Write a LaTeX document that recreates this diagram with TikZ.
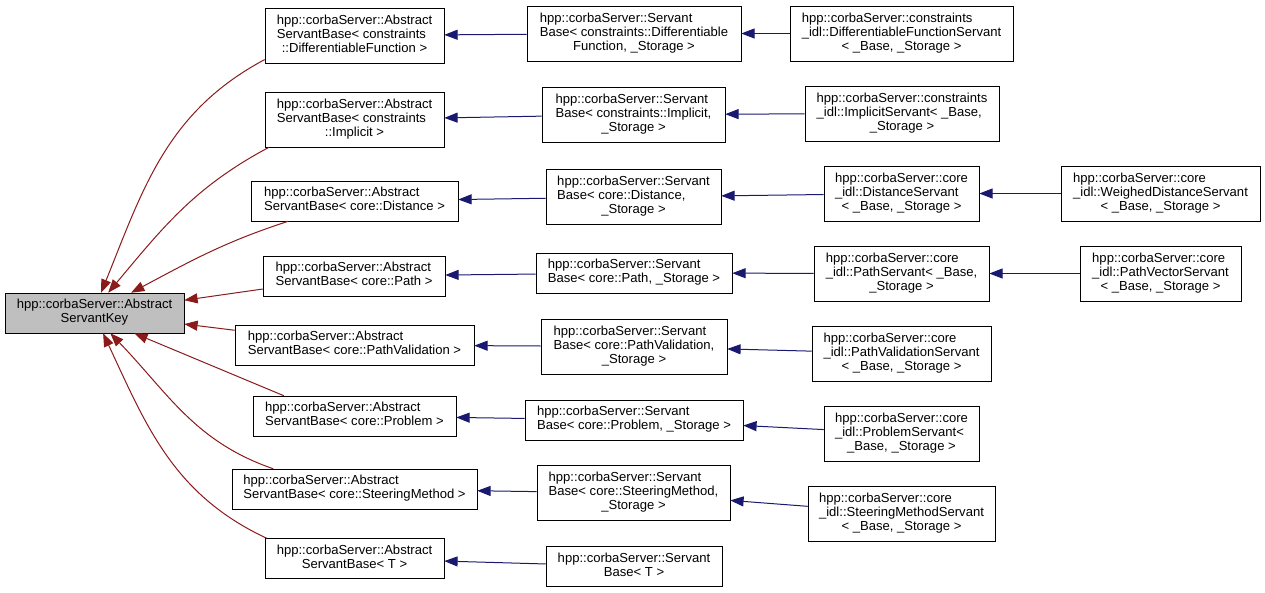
\documentclass[tikz,border=0pt]{standalone}
\usepackage{fontspec}
\setmainfont{Liberation Sans}
\usetikzlibrary{arrows.meta}
\definecolor{firebrick}{HTML}{8B1A1A}
\definecolor{midnight}{HTML}{191970}
\definecolor{grey75}{HTML}{BFBFBF}
% doxygen label: left aligned lines, last line centred
\newcommand{\cls}[2]{\begin{tabular}{@{}l@{}}#1\\\multicolumn{1}{@{}c@{}}{#2}\end{tabular}}

\begin{document}
\begin{tikzpicture}[x=0.75pt,y=0.75pt,
  box/.style 2 args={draw,rectangle,inner sep=0pt,minimum width=#1*0.75pt,minimum height=#2*0.75pt,font=\fontsize{9.8}{10.5}\selectfont},
  redarr/.style={draw=firebrick,line width=0.75pt,-{Triangle[length=10pt,width=7.5pt]}},
  bluearr/.style={draw=midnight,line width=0.75pt,-{Triangle[length=10pt,width=7.5pt]}}]
\useasboundingbox (0,0) rectangle (1265,-593);

\node[box={179}{40},fill=grey75] (root) at (94.5,-313) {\cls{hpp::corbaServer::Abstract}{ServantKey}};

\node[box={179}{55}] (a1) at (354.5,-35.5) {\cls{hpp::corbaServer::Abstract\\ServantBase< constraints}{::DifferentiableFunction >}};
\node[box={179}{55}] (a2) at (354.5,-119.5) {\cls{hpp::corbaServer::Abstract\\ServantBase< constraints}{::Implicit >}};
\node[box={207}{40}] (a3) at (354.5,-201) {\cls{hpp::corbaServer::Abstract}{ServantBase< core::Distance >}};
\node[box={182}{40}] (a4) at (354,-276) {\cls{hpp::corbaServer::Abstract}{ServantBase< core::Path >}};
\node[box={239}{40}] (a5) at (354.5,-345) {\cls{hpp::corbaServer::Abstract}{ServantBase< core::PathValidation >}};
\node[box={203}{40}] (a6) at (354.5,-416) {\cls{hpp::corbaServer::Abstract}{ServantBase< core::Problem >}};
\node[box={245}{40}] (a7) at (354.5,-489) {\cls{hpp::corbaServer::Abstract}{ServantBase< core::SteeringMethod >}};
\node[box={179}{40}] (a8) at (354.5,-558.5) {\cls{hpp::corbaServer::Abstract}{ServantBase< T >}};

\node[box={214}{55}] (s1) at (634,-33.5) {\cls{hpp::corbaServer::Servant\\Base< constraints::Differentiable}{Function, \_Storage >}};
\node[box={183}{55}] (s2) at (633.5,-114.5) {\cls{hpp::corbaServer::Servant\\Base< constraints::Implicit,}{\_Storage >}};
\node[box={175}{55}] (s3) at (633.5,-197) {\cls{hpp::corbaServer::Servant\\Base< core::Distance,}{\_Storage >}};
\node[box={196}{40}] (s4) at (634,-273) {\cls{hpp::corbaServer::Servant}{Base< core::Path, \_Storage >}};
\node[box={186}{55}] (s5) at (634,-346.5) {\cls{hpp::corbaServer::Servant\\Base< core::PathValidation,}{\_Storage >}};
\node[box={218}{40}] (s6) at (634,-420) {\cls{hpp::corbaServer::Servant}{Base< core::Problem, \_Storage >}};
\node[box={193}{55}] (s7) at (633.5,-493) {\cls{hpp::corbaServer::Servant\\Base< core::SteeringMethod,}{\_Storage >}};
\node[box={176}{40}] (s8) at (634,-566.5) {\cls{hpp::corbaServer::Servant}{Base< T >}};

\node[box={223}{55}] (d1) at (901.5,-33.5) {\cls{hpp::corbaServer::constraints\\\_idl::DifferentiableFunctionServant}{< \_Base, \_Storage >}};
\node[box={194}{55}] (d2) at (902,-113.5) {\cls{hpp::corbaServer::constraints\\\_idl::ImplicitServant< \_Base,}{\_Storage >}};
\node[box={155}{55}] (d3) at (901.5,-193.5) {\cls{hpp::corbaServer::core\\\_idl::DistanceServant}{< \_Base, \_Storage >}};
\node[box={175}{55}] (d4) at (901.5,-273.5) {\cls{hpp::corbaServer::core\\\_idl::PathServant< \_Base,}{\_Storage >}};
\node[box={179}{55}] (d5) at (901.5,-353.5) {\cls{hpp::corbaServer::core\\\_idl::PathValidationServant}{< \_Base, \_Storage >}};
\node[box={155}{55}] (d6) at (901.5,-433.5) {\cls{hpp::corbaServer::core\\\_idl::ProblemServant<}{\_Base, \_Storage >}};
\node[box={187}{55}] (d7) at (901.5,-513.5) {\cls{hpp::corbaServer::core\\\_idl::SteeringMethodServant}{< \_Base, \_Storage >}};

\node[box={199}{55}] (w1) at (1160.5,-193.5) {\cls{hpp::corbaServer::core\\\_idl::WeighedDistanceServant}{< \_Base, \_Storage >}};
\node[box={161}{55}] (w2) at (1160.5,-273.5) {\cls{hpp::corbaServer::core\\\_idl::PathVectorServant}{< \_Base, \_Storage >}};

% inheritance of the abstract key
\path (a1.195) edge[redarr,out=208,in=68] (root.72);
\path (a2.198) edge[redarr,out=208,in=50] (root.56);
\path (a3.197) edge[redarr,out=198,in=28] (root.29);
\path (a4) edge[redarr] (root);
\path (a5) edge[redarr] (root);
\path (a6.164) edge[redarr] (root.333);
\path (a7.166) edge[redarr,out=161,in=314] (root.308);
\path (a8.167) edge[redarr,out=155,in=295] (root.293);

\path (s1) edge[bluearr] (a1);
\path (s2) edge[bluearr] (a2);
\path (s3) edge[bluearr] (a3);
\path (s4) edge[bluearr] (a4);
\path (s5) edge[bluearr] (a5);
\path (s6) edge[bluearr] (a6);
\path (s7) edge[bluearr] (a7);
\path (s8) edge[bluearr] (a8);

\path (d1) edge[bluearr] (s1);
\path (d2) edge[bluearr] (s2);
\path (d3) edge[bluearr] (s3);
\path (d4) edge[bluearr] (s4);
\path (d5) edge[bluearr] (s5);
\path (d6) edge[bluearr] (s6);
\path (d7) edge[bluearr] (s7);
\path (w1) edge[bluearr] (d3);
\path (w2) edge[bluearr] (d4);
\end{tikzpicture}
\end{document}
